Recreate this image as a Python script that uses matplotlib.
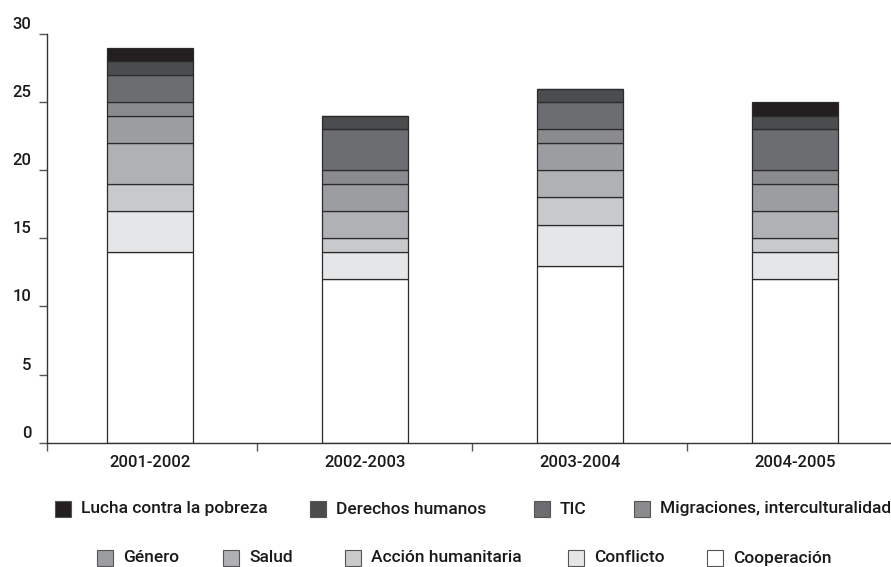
import matplotlib.pyplot as plt
from matplotlib.patches import Rectangle
from matplotlib.transforms import ScaledTranslation

plt.rcParams['font.family'] = ['Roboto', 'DejaVu Sans']
plt.rcParams['font.weight'] = 'medium'

periodos = ["2001-2002", "2002-2003", "2003-2004", "2004-2005"]

# de abajo hacia arriba
temas = ["Cooperación", "Conflicto", "Acción humanitaria", "Salud", "Género",
         "Migraciones, interculturalidad", "TIC", "Derechos humanos",
         "Lucha contra la pobreza"]
cooperacion = [14, 12, 13, 12]
conflicto = [3, 2, 3, 2]
accion_humanitaria = [2, 1, 2, 1]
salud = [3, 2, 2, 2]
genero = [2, 2, 2, 2]
migraciones = [1, 1, 1, 1]
tic = [2, 3, 2, 3]
derechos_humanos = [1, 1, 1, 1]
lucha_pobreza = [1, 0, 0, 1]
series = [cooperacion, conflicto, accion_humanitaria, salud, genero,
          migraciones, tic, derechos_humanos, lucha_pobreza]
colores = ["#ffffff", "#e5e6e7", "#c8c9cb", "#b0b1b4", "#9c9da0",
           "#8a8b8e", "#6c6d70", "#4b4c4e", "#231f20"]

fig = plt.figure(figsize=(8.91, 5.67), dpi=100)
ax = fig.add_axes([0.0522, 0.2192, 0.9478, 0.7208])

x = range(len(periodos))
base = [0] * len(periodos)
for serie, color in zip(series, colores):
    ax.bar(x, serie, bottom=base, width=0.4, color=color,
           edgecolor="#2b2b2b", linewidth=0.9)
    base = [b + v for b, v in zip(base, serie)]

ax.set_xlim(-0.481, 3.447)
ax.set_ylim(0, 30)
for s in ["top", "right"]:
    ax.spines[s].set_visible(False)
for s in ["left", "bottom"]:
    ax.spines[s].set_color("#333333")
    ax.spines[s].set_linewidth(1.0)

ax.set_yticks(range(0, 31, 5))
ax.set_yticklabels([str(v) for v in range(0, 31, 5)])
ax.tick_params(axis="y", length=6, width=1, color="#555555", pad=5,
               labelsize=12, labelcolor="#1a1a1a")
off = ScaledTranslation(0, 0.11, fig.dpi_scale_trans)
for lab in ax.get_yticklabels():
    lab.set_transform(lab.get_transform() + off)

ax.set_xticks([-0.481, 0.5, 1.5, 2.5])
ax.set_xticklabels([])
ax.set_xticks(list(x), minor=True)
ax.set_xticklabels(periodos, minor=True)
ax.tick_params(axis="x", which="major", length=6, width=1, color="#555555")
ax.tick_params(axis="x", which="minor", length=0, pad=9,
               labelsize=12, labelcolor="#1a1a1a")

# leyenda en dos filas
fila1 = [(55, "Lucha contra la pobreza"), (310, "Derechos humanos"),
         (534, "TIC"), (634, "Migraciones, interculturalidad")]
fila2 = [(97, "Género"), (223, "Salud"), (345, "Acción humanitaria"),
         (568, "Conflicto"), (707, "Cooperación")]
W, H = 891.0, 567.0
for fila, yc in [(fila1, 509), (fila2, 558)]:
    for px, nombre in fila:
        color = colores[temas.index(nombre)]
        fig.add_artist(Rectangle((px / W, 1 - (yc + 8) / H), 16 / W, 16 / H,
                                 transform=fig.transFigure, facecolor=color,
                                 edgecolor="#555555", linewidth=0.8))
        fig.text((px + 26) / W, 1 - yc / H, nombre, va="center", ha="left",
                 fontsize=12.5, color="#1a1a1a")

fig.savefig("out.png", dpi=100)
